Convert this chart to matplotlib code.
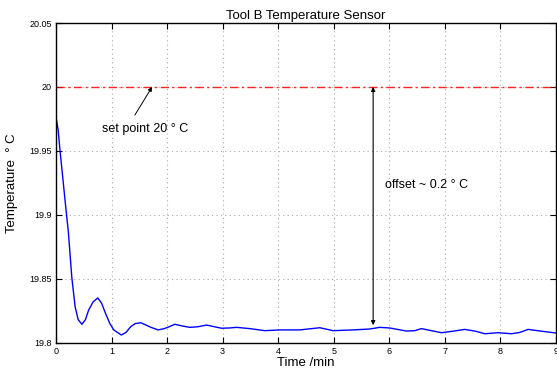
import numpy as np
import matplotlib.pyplot as plt

plt.rcParams['font.family'] = ['Liberation Sans', 'DejaVu Sans']

# temperature trace (time in min, temp in deg C)
time_min = [0.0, 0.04, 0.073, 0.12, 0.164, 0.224, 0.285, 0.345, 0.40, 0.467,
            0.53, 0.588, 0.67, 0.752, 0.82, 0.891, 0.97, 1.04, 1.176, 1.26,
            1.345, 1.43, 1.527, 1.61, 1.71, 1.84, 1.95, 2.04, 2.14, 2.28,
            2.41, 2.56, 2.71, 2.85, 2.98, 3.12, 3.25, 3.49, 3.76, 4.03,
            4.39, 4.75, 4.99, 5.35, 5.65, 5.83, 6.01, 6.31, 6.46, 6.58,
            6.94, 7.15, 7.36, 7.55, 7.72, 7.96, 8.2, 8.35, 8.5, 8.74, 9.0]
temp_c = [19.977, 19.966, 19.950, 19.930, 19.911, 19.886, 19.851, 19.828, 19.818, 19.8144,
          19.818, 19.8255, 19.832, 19.835, 19.831, 19.823, 19.815, 19.810, 19.806, 19.808,
          19.8125, 19.815, 19.8156, 19.814, 19.812, 19.810, 19.811, 19.8125, 19.8144, 19.813,
          19.812, 19.8125, 19.8138, 19.8125, 19.8113, 19.8115, 19.812, 19.811, 19.8094, 19.810,
          19.810, 19.8117, 19.8094, 19.810, 19.8107, 19.812, 19.8115, 19.8091, 19.8094, 19.811,
          19.8078, 19.809, 19.8104, 19.809, 19.807, 19.8078, 19.807, 19.808, 19.8104, 19.809, 19.8076]

set_point = 20.0
offset_time = 5.71
offset_low = 19.8137

x_ticks = [0, 1, 2, 3, 4, 5, 6, 7, 8, 9]
y_ticks = [19.8, 19.85, 19.9, 19.95, 20, 20.05]
y_tick_labels = ['19.8', '19.85', '19.9', '19.95', '20', '20.05']

fig = plt.figure(figsize=(5.57, 3.71), dpi=100)
ax = fig.add_axes([0.1005, 0.0763, 0.8975, 0.8617])

ax.plot(time_min, temp_c, color='blue', linewidth=1.0)
ax.axhline(set_point, color='red', linestyle=(0, (6, 2.5, 1.5, 2.5)), linewidth=1.0, alpha=0.85)

ax.annotate('', xy=(1.73, set_point), xytext=(1.42, 19.978),
            arrowprops=dict(arrowstyle='-|>', color='black', lw=0.7,
                            mutation_scale=6, shrinkA=0, shrinkB=0))
ax.text(1.6, 19.967, 'set point 20 \u00b0 C', ha='center', va='center', fontsize=9)

ax.annotate('', xy=(offset_time, set_point), xytext=(offset_time, offset_low),
            arrowprops=dict(arrowstyle='<|-|>', color='black', lw=0.8,
                            mutation_scale=6, shrinkA=0, shrinkB=0))
ax.text(5.93, 19.923, 'offset ~ 0.2 \u00b0 C', ha='left', va='center', fontsize=9)

ax.set_xlim(0, 9)
ax.set_ylim(19.8, 20.05)
ax.set_xticks(x_ticks)
ax.set_yticks(y_ticks)
ax.set_yticklabels(y_tick_labels)
ax.tick_params(direction='in', length=4, width=0.8, labelsize=6.5,
               top=True, right=True, pad=3)
ax.grid(True, color='#aaaaaa', linestyle=(0, (1, 3)), linewidth=0.8)
for s in ax.spines.values():
    s.set_linewidth(1.0)

ax.set_xlabel('Time /min', fontsize=9.5, labelpad=1)
ax.set_ylabel('Temperature  \u00b0 C', fontsize=9.5)
ax.yaxis.set_label_coords(-0.076, 0.5)
ax.set_title('Tool B Temperature Sensor', fontsize=9.5, pad=3)

fig.savefig('out.png', dpi=100)
